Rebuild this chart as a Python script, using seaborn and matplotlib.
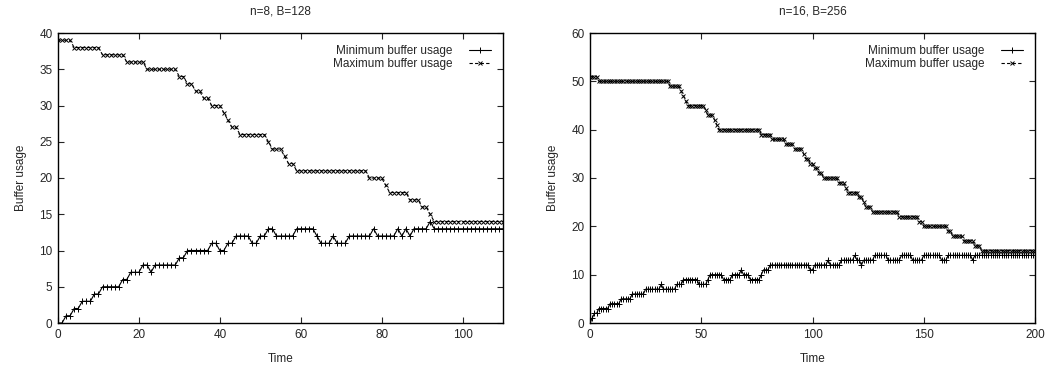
import matplotlib
matplotlib.use("Agg")
import matplotlib.pyplot as plt
import numpy as np
import seaborn as sns

# n=8, B=128 (one value per time step, t = 0..110)
small_min = [
    0, 0, 1, 1, 2, 2, 3, 3, 3, 4,
    4, 5, 5, 5, 5, 5, 6, 6, 7, 7,
    7, 8, 8, 7, 8, 8, 8, 8, 8, 8,
    9, 9, 10, 10, 10, 10, 10, 10, 11, 11,
    10, 10, 11, 11, 12, 12, 12, 12, 11, 11,
    12, 12, 13, 13, 12, 12, 12, 12, 12, 13,
    13, 13, 13, 13, 12, 11, 11, 11, 12, 11,
    11, 11, 12, 12, 12, 12, 12, 12, 13, 12,
    12, 12, 12, 12, 13, 12, 13, 12, 13, 13,
    13, 13, 14, 13, 13, 13, 13, 13, 13, 13,
    13, 13, 13, 13, 13, 13, 13, 13, 13, 13,
    13,
]
small_max = [
    39, 39, 39, 39, 38, 38, 38, 38, 38, 38,
    38, 37, 37, 37, 37, 37, 37, 36, 36, 36,
    36, 36, 35, 35, 35, 35, 35, 35, 35, 35,
    34, 34, 33, 33, 32, 32, 31, 31, 30, 30,
    30, 29, 28, 27, 27, 26, 26, 26, 26, 26,
    26, 26, 25, 24, 24, 24, 23, 22, 22, 21,
    21, 21, 21, 21, 21, 21, 21, 21, 21, 21,
    21, 21, 21, 21, 21, 21, 21, 20, 20, 20,
    20, 19, 18, 18, 18, 18, 18, 17, 17, 17,
    16, 16, 15, 14, 14, 14, 14, 14, 14, 14,
    14, 14, 14, 14, 14, 14, 14, 14, 14, 14,
    14,
]

# n=16, B=256 (t = 0..200)
large_min = [
    0, 1, 2, 2, 3, 3, 3, 3, 3, 4,
    4, 4, 4, 4, 5, 5, 5, 5, 5, 6,
    6, 6, 6, 6, 6, 7, 7, 7, 7, 7,
    7, 7, 8, 7, 7, 7, 7, 7, 7, 8,
    8, 8, 9, 9, 9, 9, 9, 9, 9, 8,
    8, 8, 8, 9, 10, 10, 10, 10, 10, 10,
    9, 9, 9, 9, 10, 10, 10, 10, 11, 10,
    10, 10, 9, 9, 9, 9, 9, 10, 11, 11,
    11, 12, 12, 12, 12, 12, 12, 12, 12, 12,
    12, 12, 12, 12, 12, 12, 12, 12, 12, 11,
    11, 12, 12, 12, 12, 12, 12, 13, 12, 12,
    12, 12, 12, 13, 13, 13, 13, 13, 13, 14,
    13, 13, 12, 13, 13, 13, 13, 13, 14, 14,
    14, 14, 14, 14, 13, 13, 13, 13, 13, 13,
    14, 14, 14, 14, 14, 13, 13, 13, 13, 13,
    14, 14, 14, 14, 14, 14, 14, 14, 13, 13,
    13, 14, 14, 14, 14, 14, 14, 14, 14, 14,
    14, 14, 13, 14, 14, 14, 14, 14, 14, 14,
    14, 14, 14, 14, 14, 14, 14, 14, 14, 14,
    14, 14, 14, 14, 14, 14, 14, 14, 14, 14,
    14,
]
large_max = [
    51, 51, 51, 51, 50, 50, 50, 50, 50, 50,
    50, 50, 50, 50, 50, 50, 50, 50, 50, 50,
    50, 50, 50, 50, 50, 50, 50, 50, 50, 50,
    50, 50, 50, 50, 50, 50, 49, 49, 49, 49,
    49, 48, 47, 46, 45, 45, 45, 45, 45, 45,
    45, 45, 44, 43, 43, 43, 42, 41, 40, 40,
    40, 40, 40, 40, 40, 40, 40, 40, 40, 40,
    40, 40, 40, 40, 40, 40, 40, 39, 39, 39,
    39, 39, 38, 38, 38, 38, 38, 38, 37, 37,
    37, 37, 36, 36, 36, 36, 35, 34, 34, 33,
    33, 32, 32, 31, 31, 30, 30, 30, 30, 30,
    30, 30, 29, 29, 29, 28, 27, 27, 27, 27,
    27, 26, 26, 25, 24, 24, 24, 23, 23, 23,
    23, 23, 23, 23, 23, 23, 23, 23, 23, 22,
    22, 22, 22, 22, 22, 22, 22, 22, 21, 21,
    20, 20, 20, 20, 20, 20, 20, 20, 20, 20,
    20, 19, 19, 18, 18, 18, 18, 18, 17, 17,
    17, 17, 17, 16, 16, 16, 15, 15, 15, 15,
    15, 15, 15, 15, 15, 15, 15, 15, 15, 15,
    15, 15, 15, 15, 15, 15, 15, 15, 15, 15,
    15,
]

titles = ["n=8, B=128", "n=16, B=256"]
xlims = [110, 200]
ylims = [40, 60]
xtick_steps = [20, 50]
ytick_steps = [5, 10]

sns.set_style("ticks")
plt.rcParams["font.family"] = ["Liberation Sans", "DejaVu Sans"]
plt.rcParams["font.size"] = 8.5

fig = plt.figure(figsize=(10.49, 3.73), dpi=100)
axes = [
    fig.add_axes([58 / 1049, 50 / 373, 445 / 1049, 290 / 373]),
    fig.add_axes([590 / 1049, 50 / 373, 445 / 1049, 290 / 373]),
]

panels = [(small_min, small_max), (large_min, large_max)]

for i, (ax, (mins, maxs)) in enumerate(zip(axes, panels)):
    t = np.arange(len(mins))
    sns.lineplot(x=t, y=mins, ax=ax, color="black", linewidth=0.8,
                 marker="+", markersize=4.2, markeredgewidth=0.7,
                 markeredgecolor="black", label="Minimum buffer usage")
    sns.lineplot(x=t, y=maxs, ax=ax, color="black", linewidth=0.8,
                 linestyle=(0, (3, 2)), marker="x", markersize=3.5,
                 markeredgewidth=0.7, markeredgecolor="black",
                 label="Maximum buffer usage")

    ax.set_xlim(0, xlims[i])
    ax.set_ylim(0, ylims[i])
    ax.set_xticks(np.arange(0, xlims[i] + 1, xtick_steps[i]))
    ax.set_yticks(np.arange(0, ylims[i] + 1, ytick_steps[i]))
    ax.tick_params(direction="in", top=True, right=True, length=4,
                   width=0.8, labelsize=8.5, pad=4)
    for sp in ax.spines.values():
        sp.set_linewidth(1.0)
        sp.set_color("black")

    ax.set_title(titles[i], fontsize=8.5, pad=13)
    ax.set_xlabel("Time", fontsize=8.5, labelpad=9)
    ax.set_ylabel("Buffer usage", fontsize=8.5, labelpad=9)

    leg = ax.legend(loc="upper right", markerfirst=False, frameon=False,
                    fontsize=8.5, handlelength=1.9, handletextpad=1.35,
                    labelspacing=0.1, borderaxespad=0.6)
    for txt in leg.get_texts():
        txt.set_ha("right")

fig.savefig("out.png", dpi=100)
plt.close(fig)
